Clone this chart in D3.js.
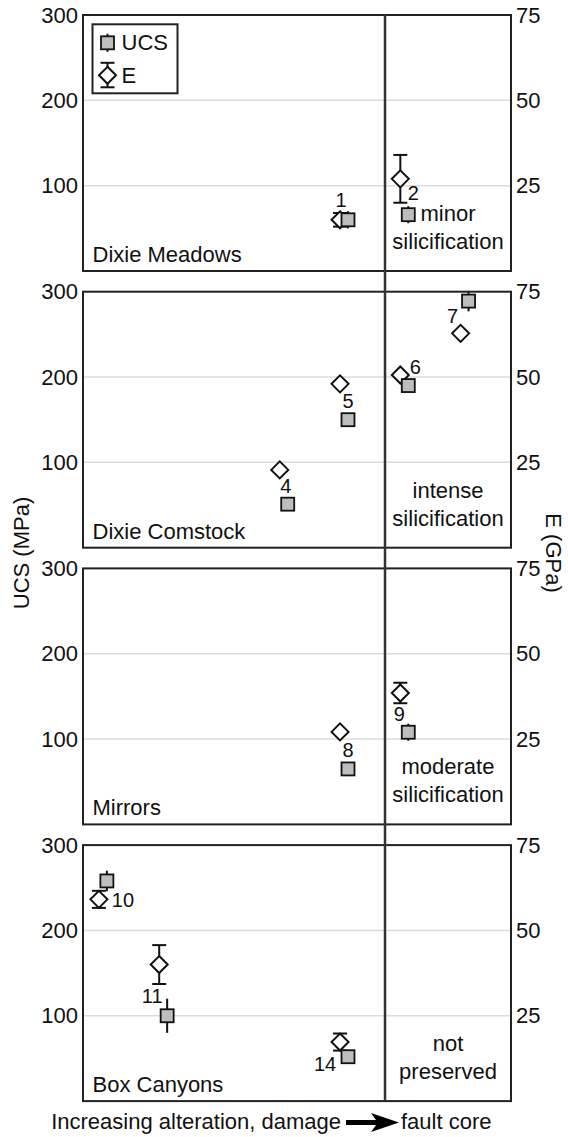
<!DOCTYPE html>
<html>
<head>
<meta charset="utf-8">
<script src="https://cdn.jsdelivr.net/npm/d3@7"></script>
<style>
  html, body { margin: 0; padding: 0; background: #fff; }
  svg { display: block; font-family: "Liberation Sans", Arial, Helvetica, sans-serif; }
</style>
</head>
<body>
<svg id="chart" width="568" height="1137"></svg>
<script>
// Locality panels, top to bottom
const panelNames = ["Dixie Meadows", "Dixie Comstock", "Mirrors", "Box Canyons"];
// Description of the fault-core zone in each locality
const coreNotes = [
  ["minor", "silicification"],
  ["intense", "silicification"],
  ["moderate", "silicification"],
  ["not", "preserved"]
];

// Samples: id, panel and slot along the alteration / damage gradient
const sampleIds   = ["1", "2", "4", "5", "6", "7", "8", "9", "10", "11", "14"];
const samplePanel = [0, 0, 1, 1, 1, 1, 2, 2, 3, 3, 3];
const sampleSlot  = [4, 5, 3, 4, 5, 6, 4, 5, 0, 1, 4];

// Uniaxial compressive strength (MPa) and its spread
const ucsValues = [60, 66, 51, 150, 190, 289, 65, 108, 258, 100, 52];
const ucsErr    = [10, 10, 0, 0, 0, 12, 0, 10, 12, 20, 0];
// Young's modulus (GPa) and its spread
const eValues = [15, 27, 22.8, 48, 50.6, 62.8, 27.1, 38.5, 59.1, 40, 17.3];
const eErr    = [2, 7, 0, 0, 0, 0, 0, 3, 2.5, 5.7, 2.5];

// Axis ticks
const ucsTicks = [100, 200, 300];
const eTicks = [25, 50, 75];
const gridValues = [100, 200];
const ucsDomain = [0, 300];
const eDomain = [0, 75];

// Slot where the damage zone gives way to the fault core
const coreBoundary = 4.68;

// ---- layout ----
const left = 83, right = 511;
const top0 = 15, panelH = 256, panelStep = 276.7;
const font = 22, numFont = 20;
const dodge = 0.066;

// label placement next to each sample (pixels from slot centre / UCS point)
const labelShift = {
  "1": [-3, -20], "2": [9, -22], "4": [2, -18], "5": [4, -19],
  "6": [11, -19], "7": [-12, 15], "8": [4, -19], "9": [-5, -18],
  "10": [20, 19], "11": [-11, -20], "14": [-19, 7]
};

const svg = d3.select("#chart");
const x = d3.scaleLinear().domain([-0.33, 6.77]).range([left, right]);

const panels = panelNames.map((name, i) => {
  const top = top0 + i * panelStep;
  const y = d3.scaleLinear().domain(ucsDomain).range([top + panelH, top]);
  const yE = d3.scaleLinear().domain(eDomain).range([top + panelH, top]);
  return { name, i, top, y, yE };
});

panels.forEach(p => {
  const g = svg.append("g");
  // gridlines
  g.selectAll("line.grid").data(gridValues).join("line")
    .attr("x1", left).attr("x2", right)
    .attr("y1", d => p.y(d)).attr("y2", d => p.y(d))
    .attr("stroke", "#dcdcdc").attr("stroke-width", 1.5);

  // left axis (UCS)
  const ax = g.append("g").attr("transform", `translate(${left},0)`)
    .call(d3.axisLeft(p.y).tickValues(ucsTicks).tickSize(0).tickPadding(5));
  ax.select(".domain").remove();
  ax.selectAll("text").attr("font-size", font).attr("fill", "#111")
    .attr("font-family", "Liberation Sans, Arial, sans-serif");

  // right axis (E)
  const axr = g.append("g").attr("transform", `translate(${right},0)`)
    .call(d3.axisRight(p.yE).tickValues(eTicks).tickSize(0).tickPadding(5));
  axr.select(".domain").remove();
  axr.selectAll("text").attr("font-size", font).attr("fill", "#111")
    .attr("font-family", "Liberation Sans, Arial, sans-serif");

  // panel name
  g.append("text").attr("x", left + 9.5).attr("y", p.top + panelH - 9)
    .attr("font-size", font).attr("fill", "#111").text(p.name);

  // fault-core note
  const cx = (x(coreBoundary) + right) / 2;
  g.selectAll("text.note").data(coreNotes[p.i]).join("text")
    .attr("x", cx)
    .attr("y", (d, k) => p.top + panelH - 50 + k * 28)
    .attr("text-anchor", "middle").attr("font-size", font).attr("fill", "#111")
    .text(d => d);
});

// sample records
const samples = sampleIds.map((id, k) => ({
  id, panel: panels[samplePanel[k]], slot: sampleSlot[k],
  ucs: ucsValues[k], ucsErr: ucsErr[k], e: eValues[k], eErr: eErr[k]
}));

const marks = svg.append("g");
const capW = 14, sq = 13, dm = 8.5;

function diamond(sel, cx, cy) {
  return sel.append("path")
    .attr("d", `M${cx},${cy - dm}L${cx + dm},${cy}L${cx},${cy + dm}L${cx - dm},${cy}Z`)
    .attr("fill", "#fff").attr("stroke", "#111").attr("stroke-width", 2);
}
function square(sel, cx, cy) {
  return sel.append("rect").attr("x", cx - sq / 2).attr("y", cy - sq / 2)
    .attr("width", sq).attr("height", sq)
    .attr("fill", "#bdbdbd").attr("stroke", "#111").attr("stroke-width", 1.8);
}
function vline(sel, px, y1, y2) {
  return sel.append("line").attr("x1", px).attr("x2", px).attr("y1", y1).attr("y2", y2)
    .attr("stroke", "#111").attr("stroke-width", 2);
}
function cap(sel, px, yy) {
  return sel.append("line").attr("x1", px - capW / 2).attr("x2", px + capW / 2)
    .attr("y1", yy).attr("y2", yy).attr("stroke", "#111").attr("stroke-width", 2);
}

// E: diamonds with capped whiskers
samples.forEach(s => {
  const px = x(s.slot - dodge), py = s.panel.yE(s.e);
  if (s.eErr > 0) {
    const y1 = s.panel.yE(s.e + s.eErr), y2 = s.panel.yE(s.e - s.eErr);
    vline(marks, px, y1, y2);
    cap(marks, px, y1);
    cap(marks, px, y2);
  }
  diamond(marks, px, py);
});

// UCS: grey squares with plain whiskers
samples.forEach(s => {
  const px = x(s.slot + dodge), py = s.panel.y(s.ucs);
  if (s.ucsErr > 0) {
    vline(marks, px, s.panel.y(s.ucs + s.ucsErr), s.panel.y(s.ucs - s.ucsErr));
  }
  square(marks, px, py);
});

// sample numbers
svg.append("g").selectAll("text").data(samples).join("text")
  .attr("x", d => x(d.slot) + labelShift[d.id][0])
  .attr("y", d => d.panel.y(d.ucs) + labelShift[d.id][1])
  .attr("text-anchor", "middle").attr("dominant-baseline", "central")
  .attr("font-size", numFont).attr("fill", "#111")
  .text(d => d.id);

// panel frames
panels.forEach(p => {
  svg.append("rect").attr("x", left).attr("y", p.top)
    .attr("width", right - left).attr("height", panelH)
    .attr("fill", "none").attr("stroke", "#222").attr("stroke-width", 2);
});

// damage zone / fault core boundary through all panels
svg.append("line")
  .attr("x1", x(coreBoundary)).attr("x2", x(coreBoundary))
  .attr("y1", panels[0].top).attr("y2", panels[3].top + panelH)
  .attr("stroke", "#333").attr("stroke-width", 2.5);

// legend
const lg = svg.append("g").attr("transform", `translate(${left + 9.5},${top0 + 9.3})`);
lg.append("rect").attr("width", 85).attr("height", 69)
  .attr("fill", "#fff").attr("stroke", "#222").attr("stroke-width", 2);
vline(lg, 15, 9.5, 27.5);
square(lg, 15, 18.5);
lg.append("text").attr("x", 29).attr("y", 26).attr("font-size", font).attr("fill", "#111").text("UCS");
vline(lg, 15, 38.5, 63);
cap(lg, 15, 38.5);
cap(lg, 15, 63);
diamond(lg, 15, 51);
lg.append("text").attr("x", 29).attr("y", 59).attr("font-size", font).attr("fill", "#111").text("E");

// axis titles
svg.append("text").attr("transform", "translate(29,553) rotate(-90)")
  .attr("text-anchor", "middle").attr("font-size", font).attr("fill", "#111").text("UCS (MPa)");
svg.append("text").attr("transform", "translate(546,553) rotate(90)")
  .attr("text-anchor", "middle").attr("font-size", font).attr("fill", "#111").text("E (GPa)");

// gradient caption with arrow
const capY = panels[3].top + panelH + 28;
svg.append("text").attr("x", 341).attr("y", capY).attr("text-anchor", "end")
  .attr("font-size", font).attr("fill", "#111").text("Increasing alteration, damage");
svg.append("path")
  .attr("d", `M346,${capY - 9}L376,${capY - 9}L371,${capY - 16}L399,${capY - 6.5}L371,${capY + 3}L376,${capY - 4}L346,${capY - 4}Z`)
  .attr("fill", "#000");
svg.append("text").attr("x", 401).attr("y", capY).attr("font-size", font).attr("fill", "#111").text("fault core");
</script>
</body>
</html>
